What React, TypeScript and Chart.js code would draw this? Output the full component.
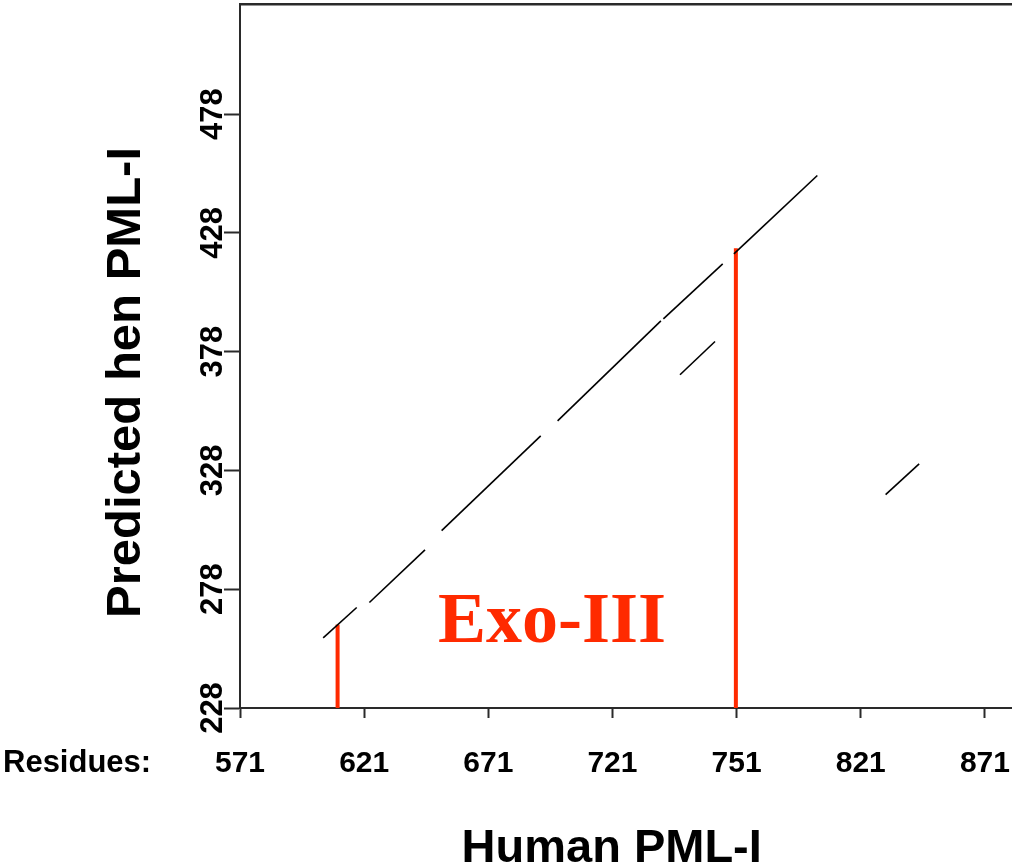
import { useEffect, useRef } from 'react';
import { Chart, registerables } from 'chart.js';

Chart.register(...registerables);

// Axis ticks
const xTickValues = [571, 621, 671, 721, 771, 821, 871];
const xTickLabels = ['571', '621', '671', '721', '751', '821', '871'];
const yTickValues = [228, 278, 328, 378, 428, 478];
const yTickLabels = ['228', '278', '328', '378', '428', '478'];

// Dot-plot match segments (human residue -> hen residue)
const segHumanStart = [604.5, 623.1, 652.2, 698.9, 741.5, 769.9, 748.2, 831.0];
const segHumanEnd = [618.0, 645.5, 692.1, 740.5, 765.4, 803.5, 762.3, 844.5];
const segHenStart = [257.5, 272.4, 302.7, 348.9, 391.8, 419.2, 368.3, 317.8];
const segHenEnd = [270.3, 294.6, 342.6, 391.0, 415.0, 452.2, 382.3, 330.8];

// Exo-III boundary markers
const exoHuman = [610.3, 770.7];
const exoHenTop = [263.1, 421.6];
const exoHenBase = 228;
const exoLabel = 'Exo-III';
const exoLabelPos = [650.7, 255.6];

const X_MIN = 571;
const X_MAX = 881.9;
const Y_MIN = 228;
const Y_MAX = 524.4;

const SANS = '"Liberation Sans", Arial, Helvetica, sans-serif';
const SERIF = '"Liberation Serif", "Times New Roman", serif';
const RED = '#ff2a00';
const AXIS = '#2a2a2a';

const textPlugin = {
  id: 'extraTexts',
  afterDraw(chart: any) {
    const ctx = chart.ctx as CanvasRenderingContext2D;
    const xs = chart.scales.x;
    const ys = chart.scales.y;
    ctx.save();
    ctx.fillStyle = '#000';
    ctx.textBaseline = 'alphabetic';
    ctx.textAlign = 'left';
    ctx.font = `bold 31px ${SANS}`;
    ctx.fillText('Residues:', 3, 771.7);

    ctx.font = `bold 47px ${SANS}`;
    ctx.textAlign = 'center';
    ctx.fillText('Human PML-I', 611.7, 861.7);

    ctx.save();
    ctx.translate(140, 382.5);
    ctx.rotate(-Math.PI / 2);
    ctx.font = `bold 49px ${SANS}`;
    ctx.textAlign = 'center';
    ctx.fillText('Predicted hen PML-I', 0, 0);
    ctx.restore();

    ctx.fillStyle = RED;
    ctx.font = `bold 72px ${SERIF}`;
    ctx.textAlign = 'left';
    ctx.fillText(exoLabel, xs.getPixelForValue(exoLabelPos[0]), ys.getPixelForValue(exoLabelPos[1]));
    ctx.restore();
  },
};

export default function App() {
  const ref = useRef<HTMLCanvasElement | null>(null);

  useEffect(() => {
    if (!ref.current) return;
    const datasets: any[] = [];
    segHumanStart.forEach((_, i) => {
      datasets.push({
        data: [
          { x: segHumanStart[i], y: segHenStart[i] },
          { x: segHumanEnd[i], y: segHenEnd[i] },
        ],
        showLine: true,
        borderColor: '#000',
        borderWidth: 1.6,
        pointRadius: 0,
        xAxisID: 'x',
        yAxisID: 'y',
      });
    });
    exoHuman.forEach((_, i) => {
      datasets.push({
        data: [
          { x: exoHuman[i], y: exoHenBase },
          { x: exoHuman[i], y: exoHenTop[i] },
        ],
        showLine: true,
        borderColor: RED,
        borderWidth: 4,
        pointRadius: 0,
        borderCapStyle: 'butt',
        xAxisID: 'x',
        yAxisID: 'y',
      });
    });

    const chart = new Chart(ref.current, {
      type: 'scatter',
      data: { datasets },
      plugins: [textPlugin],
      options: {
        animation: false,
        responsive: false,
        layout: { padding: 0 },
        plugins: { legend: { display: false }, tooltip: { enabled: false } },
        scales: {
          x: {
            type: 'linear',
            position: 'bottom',
            min: X_MIN,
            max: X_MAX,
            afterBuildTicks: (s: any) => {
              s.ticks = xTickValues.map((v) => ({ value: v }));
            },
            afterFit: (s: any) => {
              s.height = 157;
              s.paddingLeft = 0;
              s.paddingRight = 0;
            },
            ticks: {
              autoSkip: false,
              maxRotation: 0,
              minRotation: 0,
              padding: 28,
              color: '#000',
              font: { family: SANS, size: 30, weight: 'bold' },
              callback: (_v: any, i: number) => xTickLabels[i],
            },
            grid: {
              display: true,
              drawOnChartArea: false,
              drawTicks: true,
              tickLength: 10,
              tickWidth: 2,
              tickColor: AXIS,
            },
            border: { display: true, color: AXIS, width: 2 },
          },
          x2: {
            type: 'linear',
            position: 'top',
            min: X_MIN,
            max: X_MAX,
            afterFit: (s: any) => {
              s.height = 4;
              s.paddingLeft = 0;
              s.paddingRight = 0;
            },
            ticks: { display: false },
            grid: { display: false, drawTicks: false },
            border: { display: true, color: AXIS, width: 2.5 },
          },
          y: {
            type: 'linear',
            position: 'left',
            min: Y_MIN,
            max: Y_MAX,
            afterBuildTicks: (s: any) => {
              s.ticks = yTickValues.map((v) => ({ value: v }));
            },
            afterFit: (s: any) => {
              s.width = 240;
              s.paddingTop = 0;
              s.paddingBottom = 0;
            },
            ticks: {
              autoSkip: false,
              minRotation: 90,
              maxRotation: 90,
              crossAlign: 'center',
              padding: -15.5,
              color: '#000',
              font: { family: SANS, size: 31, weight: 'bold' },
              callback: (_v: any, i: number) => yTickLabels[i],
            },
            grid: {
              display: true,
              drawOnChartArea: false,
              drawTicks: true,
              tickLength: 16,
              tickWidth: 2,
              tickColor: AXIS,
            },
            border: { display: true, color: AXIS, width: 2 },
          },
        },
      } as any,
    });
    return () => chart.destroy();
  }, []);

  return (
    <div style={{ position: 'absolute', left: 0, top: 0, width: 1012, height: 865, background: '#fff' }}>
      <canvas ref={ref} width={1012} height={865} style={{ display: 'block' }} />
    </div>
  );
}
